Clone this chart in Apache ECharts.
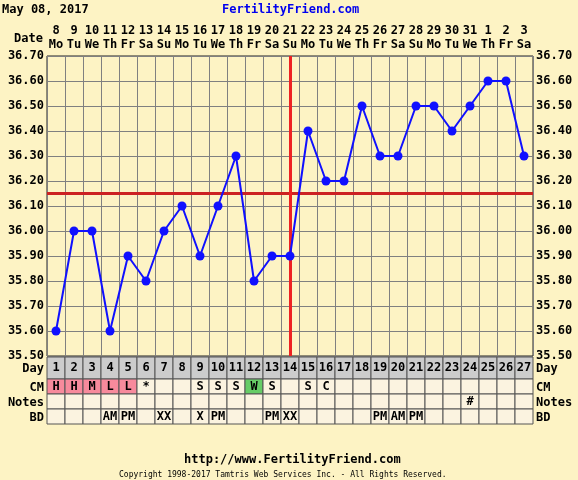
<!DOCTYPE html>
<html><head><meta charset="utf-8">
<script src="https://cdn.jsdelivr.net/npm/echarts@6/dist/echarts.min.js"></script>
<style>html,body{margin:0;padding:0;background:#FDF3C4;}#c{width:578px;height:480px;}</style>
</head><body><div id="c"></div>
<script>
// 日期 / 星期
const dates = ['8','9','10','11','12','13','14','15','16','17','18','19','20','21','22','23','24','25','26','27','28','29','30','31','1','2','3'];
const weekdays = ['Mo','Tu','We','Th','Fr','Sa','Su','Mo','Tu','We','Th','Fr','Sa','Su','Mo','Tu','We','Th','Fr','Sa','Su','Mo','Tu','We','Th','Fr','Sa'];
const days = dates.map((d, i) => String(i + 1));
// 体温
const temps = [35.60,36.00,36.00,35.60,35.90,35.80,36.00,36.10,35.90,36.10,36.30,35.80,35.90,35.90,36.40,36.20,36.20,36.50,36.30,36.30,36.50,36.50,36.40,36.50,36.60,36.60,36.30];
const cmRow = ['H','H','M','L','L','*','','','S','S','S','W','S','','S','C','','','','','','','','','','',''];
const notesRow = ['','','','','','','','','','','','','','','','','','','','','','','','#','','',''];
const bdRow = ['','','','AM','PM','','XX','','X','PM','','','PM','XX','','','','','PM','AM','PM','','','','','',''];
const coverline = 36.15;
const ovulationDay = 14;

const font = 'DejaVu Sans Mono';
const rows = [
  { name: 'Day', top: 0, bottom: 22, vals: days },
  { name: 'CM', top: 22, bottom: 37, vals: cmRow },
  { name: 'Notes', top: 37, bottom: 52, vals: notesRow },
  { name: 'BD', top: 52, bottom: 67, vals: bdRow }
];
const cells = [];
rows.forEach((r, ri) => r.vals.forEach((v, i) => cells.push([i, ri, v])));

function cellColor(ri, v) {
  if (ri === 0) return '#CCCCCC';
  if (ri === 1 && (v === 'H' || v === 'M' || v === 'L')) return '#F78A9C';
  if (ri === 1 && v === 'W') return '#66CC66';
  return '#FBF3E0';
}

const chart = echarts.init(document.getElementById('c'));
const labelStyle = { fontFamily: font, fontWeight: 'bold', fontSize: 12, color: '#000' };

const graphic = [
  { type: 'text', left: 2, top: 4, style: { text: 'May 08, 2017', font: 'bold 12px "DejaVu Sans Mono"', fill: '#000' } },
  { type: 'text', left: 222, top: 4, style: { text: 'FertilityFriend.com', font: 'bold 12px "DejaVu Sans Mono"', fill: '#0000EE' } },
  { type: 'text', left: 14, top: 33, style: { text: 'Date', font: 'bold 12px "DejaVu Sans Mono"', fill: '#000' } },
  { type: 'text', left: 184, top: 454, style: { text: 'http://www.FertilityFriend.com', font: 'bold 12px "DejaVu Sans Mono"', fill: '#000' } },
  { type: 'text', left: 119, top: 471, style: { text: 'Copyright 1998-2017 Tamtris Web Services Inc. - All Rights Reserved.', font: '8px "DejaVu Sans Mono"', fill: '#000' } }
];
const rowLabelY = [363, 382, 397, 412];
rows.forEach((r, ri) => {
  graphic.push({ type: 'text', right: 534, top: rowLabelY[ri], style: { text: r.name, font: 'bold 12px "DejaVu Sans Mono"', fill: '#000', align: 'right' } });
  graphic.push({ type: 'text', left: 536, top: rowLabelY[ri], style: { text: r.name, font: 'bold 12px "DejaVu Sans Mono"', fill: '#000' } });
});

chart.setOption({
  animation: false,
  backgroundColor: '#FDF3C4',
  graphic: graphic,
  grid: [
    { left: 47, width: 486, top: 56, height: 300, show: true, backgroundColor: '#FDF3C4', borderColor: '#222', borderWidth: 1 },
    { left: 47, width: 486, top: 357, height: 67 }
  ],
  xAxis: [
    { type: 'category', gridIndex: 0, data: dates, position: 'bottom', axisLabel: { show: false }, axisTick: { show: false }, axisLine: { show: false },
      splitLine: { show: true, lineStyle: { color: '#808080', width: 1 } } },
    { type: 'category', gridIndex: 0, data: dates, position: 'top', axisTick: { show: false }, axisLine: { show: false },
      axisLabel: Object.assign({ interval: 0, margin: 4, lineHeight: 14, formatter: (v, i) => v + '\n' + weekdays[i] }, labelStyle) },
    { type: 'category', gridIndex: 1, data: days, show: false }
  ],
  yAxis: [
    { type: 'value', gridIndex: 0, min: 35.5, max: 36.7, interval: 0.1, position: 'left',
      axisLabel: Object.assign({ margin: 3, formatter: v => v.toFixed(2) }, labelStyle),
      axisLine: { show: false }, axisTick: { show: false }, splitLine: { show: true, lineStyle: { color: '#808080', width: 1 } } },
    { type: 'value', gridIndex: 0, min: 35.5, max: 36.7, interval: 0.1, position: 'right',
      axisLabel: Object.assign({ margin: 3, formatter: v => v.toFixed(2) }, labelStyle),
      axisLine: { show: false }, axisTick: { show: false }, splitLine: { show: false } },
    { type: 'value', gridIndex: 1, min: 0, max: 67, inverse: true, show: false }
  ],
  series: [
    {
      type: 'line', xAxisIndex: 0, yAxisIndex: 0, data: temps,
      symbol: 'circle', symbolSize: 9, z: 5,
      lineStyle: { color: '#1010FF', width: 2 }, itemStyle: { color: '#1010FF' },
      markLine: {
        silent: true, symbol: 'none', label: { show: false },
        data: [
          { yAxis: coverline, lineStyle: { color: '#CC2222', width: 3, type: 'solid' } },
          { xAxis: ovulationDay - 1, lineStyle: { color: '#EE2222', width: 3, type: 'solid' } }
        ]
      }
    },
    {
      type: 'custom', xAxisIndex: 2, yAxisIndex: 2, data: cells,
      renderItem: (params, api) => {
        const i = api.value(0), ri = api.value(1);
        const r = rows[ri];
        const v = r.vals[i];
        const w = api.size([1, 0])[0];
        const p0 = api.coord([i, r.top]);
        const p1 = api.coord([i, r.bottom]);
        const x = p0[0] - w / 2;
        return {
          type: 'group', children: [
            { type: 'rect', shape: { x: x, y: p0[1], width: w, height: p1[1] - p0[1] },
              style: { fill: cellColor(ri, v), stroke: '#555', lineWidth: 1 } },
            { type: 'text', style: { text: v, x: p0[0], y: (p0[1] + p1[1]) / 2, align: 'center', verticalAlign: 'middle',
              font: 'bold 12px "DejaVu Sans Mono"', fill: '#000' } }
          ]
        };
      }
    }
  ]
});
</script></body></html>
